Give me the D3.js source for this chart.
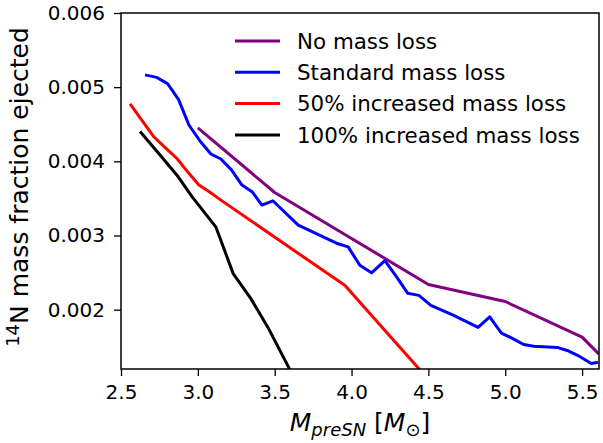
<!DOCTYPE html>
<html>
<head>
<meta charset="utf-8">
<script src="https://cdn.jsdelivr.net/npm/d3@7"></script>
<style>
  body { margin: 0; background: #fff; }
  text { font-family: "DejaVu Sans", sans-serif; }
</style>
</head>
<body>
<div id="chart"></div>
<script>
// pre-SN mass (Msun) and ejected 14N mass fraction
const noLossMass = [3.0, 3.5, 4.0, 4.5, 5.0, 5.5, 5.61];
const noLossN14 = [0.00445, 0.00358, 0.00296, 0.00234, 0.00211, 0.00163, 0.0014];

const stdMass = [2.656, 2.732, 2.804, 2.874, 2.942, 3.014, 3.085, 3.150, 3.220, 3.287, 3.355, 3.417, 3.488,
  3.653, 3.902, 3.978, 4.054, 4.130, 4.217, 4.293, 4.366, 4.438, 4.516, 4.665, 4.823, 4.899, 4.975,
  5.040, 5.120, 5.185, 5.338, 5.403, 5.484, 5.560, 5.603];
const stdN14 = [0.005166, 0.005132, 0.005045, 0.004835, 0.00449, 0.004274, 0.004099, 0.004031, 0.003882,
  0.00368, 0.003585, 0.00341, 0.003468, 0.003139, 0.002896, 0.002846, 0.002599, 0.002497, 0.00266,
  0.002441, 0.00222, 0.002193, 0.002058, 0.001923, 0.001761, 0.001903, 0.001684, 0.001619, 0.001531,
  0.001508, 0.001491, 0.00145, 0.001369, 0.001274, 0.001292];

const half = [2.559, 2.715, 2.786, 2.864, 2.932, 3.007, 3.072, 3.150, 3.956, 4.5];
const halfN14 = [0.004774, 0.004328, 0.004189, 0.004038, 0.003862, 0.00368, 0.003592, 0.003477, 0.002328, 0.00106];

const doubleMass = [2.624, 2.754, 2.871, 2.962, 3.118, 3.230, 3.345, 3.456, 3.605];
const doubleN14 = [0.004403, 0.004085, 0.003795, 0.003524, 0.003112, 0.002486, 0.002149, 0.001761, 0.001166];

const labels = ["No mass loss", "Standard mass loss", "50% increased mass loss", "100% increased mass loss"];
const colors = ["purple", "blue", "red", "black"];
const xTicks = [2.5, 3.0, 3.5, 4.0, 4.5, 5.0, 5.5];
const yTicks = [0.002, 0.003, 0.004, 0.005, 0.006];

const margin = { top: 13, right: 4, bottom: 74, left: 121 };
const width = 603 - margin.left - margin.right;
const height = 443 - margin.top - margin.bottom;

const svg = d3.select("#chart")
  .append("svg")
  .attr("width", 603)
  .attr("height", 443);

const g = svg.append("g")
  .attr("transform", `translate(${margin.left},${margin.top})`);

const x = d3.scaleLinear().domain([2.5, 5.61]).range([0, width]);
const y = d3.scaleLinear().domain([0.0012, 0.006]).range([height, 0]);

g.append("clipPath").attr("id", "clip")
  .append("rect").attr("width", width).attr("height", height);

const series = [
  d3.zip(noLossMass, noLossN14),
  d3.zip(stdMass, stdN14),
  d3.zip(half, halfN14),
  d3.zip(doubleMass, doubleN14)
];

const line = d3.line().x(d => x(d[0])).y(d => y(d[1]));

g.append("g")
  .attr("clip-path", "url(#clip)")
  .selectAll("path")
  .data(series)
  .join("path")
  .attr("d", line)
  .attr("fill", "none")
  .attr("stroke", (d, i) => colors[i])
  .attr("stroke-width", 3)
  .attr("stroke-linejoin", "round");

// axes
const xAxis = g.append("g")
  .attr("transform", `translate(0,${height})`)
  .call(d3.axisBottom(x).tickValues(xTicks).tickFormat(d3.format(".1f")).tickSize(7).tickPadding(9));
const yAxis = g.append("g")
  .call(d3.axisLeft(y).tickValues(yTicks).tickFormat(d3.format(".3f")).tickSize(7).tickPadding(9));

[xAxis, yAxis].forEach(a => {
  a.select(".domain").remove();
  a.selectAll("line").attr("stroke", "#000").attr("stroke-width", 1.3);
  a.selectAll("text").attr("font-size", 20).attr("fill", "#000")
    .attr("font-family", "DejaVu Sans");
});

g.append("rect")
  .attr("width", width)
  .attr("height", height)
  .attr("fill", "none")
  .attr("stroke", "#000")
  .attr("stroke-width", 1.5);

// legend
const legend = g.append("g").attr("transform", "translate(114,28)");
labels.forEach((lab, i) => {
  const row = legend.append("g").attr("transform", `translate(0,${i * 31.3})`);
  row.append("line").attr("x1", 0).attr("x2", 45)
    .attr("stroke", colors[i]).attr("stroke-width", 3);
  row.append("text").attr("x", 62).attr("y", 7.7)
    .attr("font-size", 21.4).text(lab);
});

// axis labels
svg.append("text")
  .attr("x", margin.left + width / 2)
  .attr("y", 431)
  .attr("text-anchor", "middle")
  .attr("font-size", 25)
  .html('<tspan font-style="italic">M</tspan><tspan font-style="italic" font-size="18" dy="5">preSN</tspan><tspan dy="-5"> [</tspan><tspan font-style="italic">M</tspan><tspan font-size="18" dy="5">⊙</tspan><tspan dy="-5">]</tspan>');

svg.append("text")
  .attr("transform", `translate(28,187) rotate(-90)`)
  .attr("text-anchor", "middle")
  .attr("font-size", 25)
  .html('<tspan font-size="18" dy="-9">14</tspan><tspan dy="9">N mass fraction ejected</tspan>');
</script>
</body>
</html>
